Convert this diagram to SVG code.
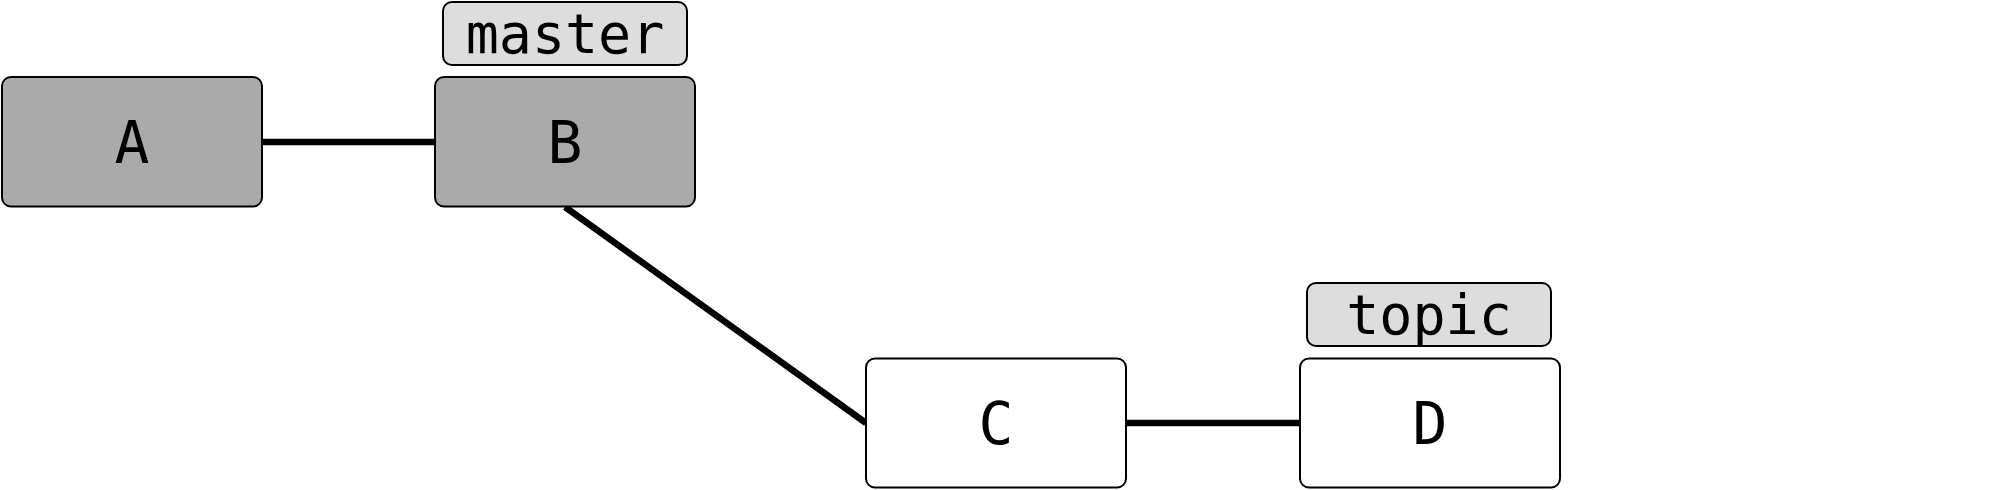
<svg xmlns="http://www.w3.org/2000/svg" width="2000" height="490" viewBox="0 0 2000 490">
<style>
.node{stroke:#000;stroke-width:2}
.gray{fill:#aaaaaa}
.white{fill:#ffffff}
.label{fill:#dddddd;stroke:#000;stroke-width:2}
.t{font-family:"DejaVu Sans Mono","Liberation Mono",monospace;text-anchor:middle;fill:#000}
.nt{font-size:58px}
.lt{font-size:55px}
.edge{stroke:#000;stroke-width:6.5;fill:none}
</style>
<rect width="2000" height="490" fill="#ffffff"/>
<g id="connectors">
<line class="edge" x1="262" y1="142" x2="435" y2="142"/>
<line class="edge" x1="565" y1="207" x2="866" y2="423"/>
<line class="edge" x1="1126" y1="423" x2="1300" y2="423"/>
</g>
<g id="node-A">
<rect class="node gray" x="2" y="77" width="260" height="129.5" rx="9"/>
<text class="t nt" x="132" y="163">A</text>
</g>
<g id="node-B">
<rect class="node gray" x="435" y="77" width="260" height="129.5" rx="9"/>
<text class="t nt" x="565" y="163">B</text>
</g>
<g id="label-master">
<rect class="label" x="443" y="2" width="244" height="63" rx="9"/>
<text class="t lt" x="565" y="53">master</text>
</g>
<g id="node-C">
<rect class="node white" x="866" y="358.5" width="260" height="129" rx="9"/>
<text class="t nt" x="996" y="444">C</text>
</g>
<g id="node-D">
<rect class="node white" x="1300" y="358.5" width="260" height="129" rx="9"/>
<text class="t nt" x="1430" y="444">D</text>
</g>
<g id="label-topic">
<rect class="label" x="1307" y="283" width="244" height="63" rx="9"/>
<text class="t lt" x="1429" y="334">topic</text>
</g>
</svg>
